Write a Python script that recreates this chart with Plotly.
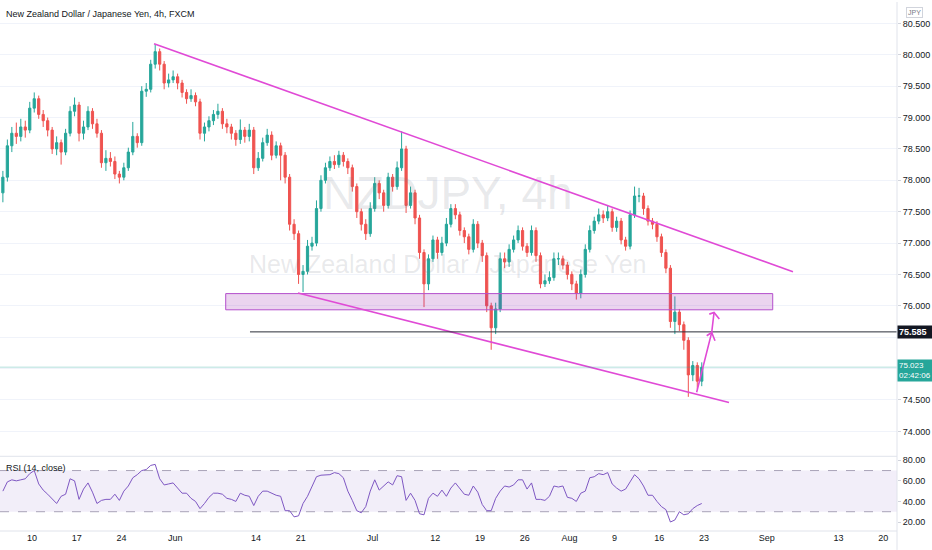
import plotly.graph_objects as go

# ---------------- data ----------------
# 12h bars on a trading-day axis (day 0 = Mon 10 May)
bar_start_day = -3.25
bar_step_day = 0.5
first_open = 77.80
close = [78.05,78.55,78.75,78.70,78.85,78.80,79.15,79.30,79.05,78.95,
         78.80,78.50,78.60,78.45,78.75,79.10,79.20,78.75,78.85,79.10,
         78.90,78.75,78.28,78.35,78.30,78.10,78.05,78.20,78.45,78.70,
         78.60,79.42,79.45,79.85,80.05,79.85,79.55,79.60,79.65,79.55,
         79.40,79.30,79.35,79.25,78.75,78.85,78.95,79.05,79.10,78.90,
         78.85,78.75,78.65,78.80,78.70,78.80,78.20,78.35,78.60,78.72,
         78.40,78.55,78.40,78.05,77.30,77.15,76.50,76.55,76.95,77.00,
         77.55,78.00,78.20,78.30,78.25,78.40,78.30,78.20,77.90,77.50,
         77.30,77.15,77.55,77.95,77.80,77.60,78.05,77.90,78.20,78.50,
         77.60,77.80,77.40,76.85,76.35,76.75,77.05,76.85,77.00,77.30,
         77.55,77.45,77.20,77.10,76.90,77.30,77.00,76.80,76.00,75.65,
         75.95,76.75,76.70,76.90,77.05,77.20,76.95,76.85,77.20,76.80,
         76.35,76.40,76.45,76.75,76.75,76.65,76.50,76.35,76.20,76.50,
         76.90,77.20,77.35,77.45,77.40,77.50,77.25,77.35,77.05,76.95,
         77.45,77.75,77.75,77.55,77.35,77.30,77.10,76.85,76.60,75.75,
         75.90,75.70,75.45,74.90,75.05,74.80,75.02]
high = [78.15,78.65,78.85,78.92,78.98,78.95,79.25,79.40,79.35,79.12,
        79.00,78.85,78.70,78.65,78.82,79.18,79.32,79.25,78.95,79.18,
        79.15,78.98,78.80,78.48,78.45,78.38,78.15,78.28,78.52,78.93,
        78.75,79.50,79.55,79.92,80.17,80.10,79.90,79.70,79.75,79.70,
        79.60,79.45,79.45,79.40,79.30,78.92,79.02,79.12,79.22,79.15,
        78.98,78.90,78.80,78.97,78.85,78.90,78.85,78.45,78.68,78.82,
        78.78,78.62,78.60,78.45,78.10,77.38,77.20,76.65,77.05,77.10,
        77.68,78.08,78.28,78.38,78.40,78.47,78.45,78.35,78.25,77.95,
        77.55,77.38,77.65,78.05,78.00,77.85,78.12,78.10,78.30,78.78,
        78.55,77.90,77.85,77.45,76.90,76.82,77.12,77.10,77.10,77.40,
        77.62,77.62,77.50,77.25,77.15,77.38,77.35,77.05,76.85,76.05,
        76.05,76.85,76.85,76.98,77.12,77.28,77.25,77.00,77.28,77.25,
        76.85,76.50,76.55,76.85,76.85,76.80,76.70,76.55,76.40,76.58,
        76.98,77.28,77.42,77.55,77.52,77.60,77.55,77.42,77.40,77.10,
        77.52,77.90,77.88,77.80,77.60,77.40,77.35,77.15,76.90,76.65,
        76.15,75.95,75.75,75.50,75.12,75.10,75.10]
low = [77.65,77.98,78.45,78.58,78.62,78.68,78.75,79.08,78.98,78.85,
       78.70,78.42,78.40,78.25,78.40,78.70,79.02,78.62,78.65,78.80,
       78.82,78.68,78.20,78.15,78.22,78.02,77.95,78.00,78.15,78.40,
       78.52,78.55,79.33,79.40,79.78,79.75,79.45,79.48,79.55,79.45,
       79.32,79.22,79.25,79.18,78.65,78.62,78.78,78.88,78.98,78.82,
       78.75,78.65,78.55,78.58,78.60,78.62,78.10,78.15,78.30,78.55,
       78.32,78.35,78.00,77.95,77.20,77.05,76.35,76.22,76.50,76.88,
       76.95,77.50,77.95,78.15,78.18,78.20,78.22,78.10,77.82,77.40,
       77.20,77.05,77.10,77.50,77.70,77.50,77.55,77.82,77.85,78.15,
       77.48,77.55,77.30,76.75,75.98,76.25,76.70,76.75,76.80,76.95,
       77.25,77.38,77.12,77.00,76.82,76.85,76.92,76.70,75.90,75.30,
       75.55,75.90,76.60,76.62,76.85,77.00,76.88,76.78,76.80,76.70,
       76.28,76.30,76.35,76.40,76.65,76.58,76.42,76.25,76.10,76.12,
       76.45,76.85,77.15,77.30,77.32,77.35,77.18,77.18,76.98,76.88,
       76.90,77.40,77.65,77.45,77.28,77.22,77.02,76.78,76.52,75.65,
       75.55,75.60,75.30,74.55,74.80,74.68,74.72]
rsi = [50,59,61,60,61,62,67,70,57,51,
       47,42,38,45,47,62,60,42,52,58,
       49,38,41,42,42,47,41,50,55,63,
       66,70,71,75,76,62,56,57,58,53,
       48,48,43,40,33,38,44,48,48,47,
       43,42,40,48,46,45,36,45,50,50,
       48,46,45,31,31,25,26,38,45,54,
       64,65.5,66,66,68,67,63,50,41,31,
       29,35,50,61,51,55,59,56,65,64,
       41,48,41,28,27,43,48,45,51,45,
       53,58,52,47,46,55,49,37,31,31,
       43,50,55,54,56,61,61,52,58,42,
       42,41,45,55,54,55,44,43,40,48,
       50,63,64,67,66,68,57,53,50,52,
       59,66,62,55,46,46,40,35,32,20,
       22,30,27,28,33,36,38]

tick_days = [0, 5, 10, 16, 25, 30, 38, 45, 50, 55, 60, 65, 70, 75, 82, 90, 95]
tick_text = ['10', '17', '24', 'Jun', '14', '21', 'Jul', '12', '19', '26',
             'Aug', '9', '16', '23', 'Sep', '13', '20']
price_ticks = [74.0, 74.5, 75.0, 75.5, 76.0, 76.5, 77.0, 77.5, 78.0, 78.5,
               79.0, 79.5, 80.0, 80.5]
price_hidden = [75.0, 75.5]          # covered by the price-label boxes
rsi_ticks = [20, 40, 60, 80]

last_price = 75.023
countdown = '02:42:06'
level_price = 75.585

# drawings (trading day, price)
upper_trend = [(13.62, 80.175), (84.93, 76.544)]
lower_trend = [(29.69, 76.206), (77.79, 74.46)]
zone = dict(x0=21.62, x1=82.67, y0=75.937, y1=76.195)
level_start_day = 24.33
arrow_path = [(74.18, 74.624), (75.86, 75.576), (76.12, 75.894)]
arrow_head1 = [(75.30, 75.524), (75.86, 75.576), (76.23, 75.444)]
arrow_head2 = [(75.59, 75.868), (76.12, 75.894), (76.71, 75.789)]

# ---------------- figure ----------------
bar_day = [bar_start_day + bar_step_day * i for i in range(len(close))]
open_ = [first_open] + close[:-1]

FONT = "Liberation Sans, Arial, sans-serif"
TXT = '#131722'
MAGENTA = '#e04ad6'
X_RANGE = [-3.571, 96.54]
Y_RANGE = [73.619, 80.841]
R_RANGE = [11.27, 82.9]

fig = go.Figure()

# watermark (drawn first, behind candles)
fig.add_trace(go.Scatter(x=[46.4], y=[77.73], mode='text', text=['NZDJPY, 4h'],
                         textfont=dict(family=FONT, size=46, color='rgba(120,123,134,0.17)'),
                         hoverinfo='skip', showlegend=False, xaxis='x', yaxis='y'))
fig.add_trace(go.Scatter(x=[46.4], y=[76.62], mode='text',
                         text=['New Zealand Dollar / Japanese Yen'],
                         textfont=dict(family=FONT, size=25, color='rgba(120,123,134,0.17)'),
                         hoverinfo='skip', showlegend=False, xaxis='x', yaxis='y'))

fig.add_trace(go.Candlestick(
    x=bar_day, open=open_, high=high, low=low, close=close,
    increasing=dict(line=dict(color='#26a69a', width=1), fillcolor='#26a69a'),
    decreasing=dict(line=dict(color='#ef5350', width=1), fillcolor='#ef5350'),
    whiskerwidth=0, hoverinfo='skip', showlegend=False, xaxis='x', yaxis='y'))

fig.add_trace(go.Scatter(x=bar_day, y=rsi, mode='lines',
                         line=dict(color='#7e57c2', width=1),
                         hoverinfo='skip', showlegend=False, xaxis='x2', yaxis='y2'))

shapes = []
# RSI band
shapes.append(dict(type='rect', xref='x2', yref='y2', x0=X_RANGE[0], x1=X_RANGE[1],
                   y0=30, y1=70, fillcolor='rgba(126,87,194,0.1)', line=dict(width=0),
                   layer='below'))
for lv in (70, 30):
    shapes.append(dict(type='line', xref='x2', yref='y2', x0=X_RANGE[0], x1=X_RANGE[1],
                       y0=lv, y1=lv, line=dict(color='#a9a3b8', width=1, dash='dash'),
                       layer='below'))
# zone rectangle
shapes.append(dict(type='rect', xref='x', yref='y', **zone,
                   fillcolor='rgba(156,39,176,0.2)', line=dict(color='#b44fcc', width=1)))
# trend lines
for (a, b) in (upper_trend, lower_trend):
    shapes.append(dict(type='line', xref='x', yref='y', x0=a[0], y0=a[1], x1=b[0], y1=b[1],
                       line=dict(color=MAGENTA, width=1.6)))
# horizontal level
shapes.append(dict(type='line', xref='x', yref='y', x0=level_start_day, x1=X_RANGE[1],
                   y0=level_price, y1=level_price, line=dict(color='#2a2e39', width=1)))
# last price line
shapes.append(dict(type='line', xref='x', yref='y', x0=X_RANGE[0], x1=X_RANGE[1],
                   y0=last_price, y1=last_price,
                   line=dict(color='rgba(38,166,154,0.35)', width=1)))
# arrow drawing
for pts in (arrow_path, arrow_head1, arrow_head2):
    path = 'M {} {}'.format(*pts[0]) + ''.join(' L {} {}'.format(*p) for p in pts[1:])
    shapes.append(dict(type='path', xref='x', yref='y', path=path,
                       line=dict(color=MAGENTA, width=1.6)))
# pane separators
main_bottom = (531 - 455) / 531
rsi_top = (531 - 457) / 531
shapes.append(dict(type='line', xref='paper', yref='paper', x0=0, x1=1,
                   y0=(531 - 456) / 531, y1=(531 - 456) / 531,
                   line=dict(color='#e0e3eb', width=1)))
shapes.append(dict(type='line', xref='paper', yref='paper', x0=1, x1=1,
                   y0=-19 / 531, y1=1, line=dict(color='#e0e3eb', width=1)))
shapes.append(dict(type='line', xref='paper', yref='paper', x0=0, x1=1,
                   y0=0, y1=0, line=dict(color='#e0e3eb', width=1)))

annotations = [
    dict(xref='paper', yref='paper', x=0.004, y=1, yshift=-5, xanchor='left', yanchor='top',
         text='New Zealand Dollar / Japanese Yen, 4h, FXCM', showarrow=False,
         font=dict(family=FONT, size=9, color=TXT)),
    dict(xref='paper', yref='y2', x=0.004, y=72.3, xanchor='left', yanchor='middle',
         text='RSI (14, close)', showarrow=False, font=dict(family=FONT, size=9, color=TXT)),
    dict(xref='paper', yref='paper', x=1, xshift=17, y=1, yshift=-5, xanchor='center',
         yanchor='top', text='JPY', showarrow=False, bordercolor='#d1d4dc', borderwidth=1,
         borderpad=1, bgcolor='white', font=dict(family=FONT, size=7, color='#787b86')),
    dict(xref='paper', yref='y', x=1, xanchor='left', y=level_price, yanchor='middle',
         text='<b>' + f'{level_price:.3f}' + '</b>', showarrow=False, bgcolor='#131722',
         width=32, align='left', borderpad=1, font=dict(family=FONT, size=9, color='white')),
    dict(xref='paper', yref='y', x=1, xanchor='left', y=last_price + 0.137, yanchor='top',
         text=f'{last_price:.3f}<br>{countdown}', showarrow=False, bgcolor='#26a69a',
         width=32, align='left', borderpad=1,
         font=dict(family=FONT, size=8, color='white')),
]

fig.update_layout(
    width=932, height=550,
    margin=dict(l=0, r=35, t=0, b=19),
    paper_bgcolor='white', plot_bgcolor='white',
    showlegend=False,
    font=dict(family=FONT, size=9, color=TXT),
    shapes=shapes, annotations=annotations,
    xaxis=dict(domain=[0, 1], range=X_RANGE, anchor='y', showticklabels=False,
               showgrid=False, zeroline=False, rangeslider=dict(visible=False),
               fixedrange=True),
    yaxis=dict(domain=[main_bottom, 1], range=Y_RANGE, side='right', anchor='x',
               tickvals=price_ticks,
               ticktext=['' if v in price_hidden else f'{v:.3f}' for v in price_ticks],
               showgrid=True, gridcolor='#f0f3fa', zeroline=False,
               ticks='outside', ticklen=3, tickcolor='#d1d4dc',
               tickfont=dict(family=FONT, size=9, color=TXT)),
    xaxis2=dict(domain=[0, 1], range=X_RANGE, anchor='y2',
                tickvals=tick_days, ticktext=tick_text, showgrid=False, zeroline=False,
                ticks='', tickfont=dict(family=FONT, size=9, color=TXT)),
    yaxis2=dict(domain=[0, rsi_top], range=R_RANGE, side='right', anchor='x2',
                tickvals=rsi_ticks, ticktext=[f'{v:.2f}' for v in rsi_ticks],
                showgrid=False, zeroline=False, ticks='outside', ticklen=3,
                tickcolor='#d1d4dc', tickfont=dict(family=FONT, size=9, color=TXT)),
)

fig.write_html('out.html',
               config={'displayModeBar': False},
               post_script="document.body.style.margin='0px';"
                           "document.body.style.overflow='hidden';")
